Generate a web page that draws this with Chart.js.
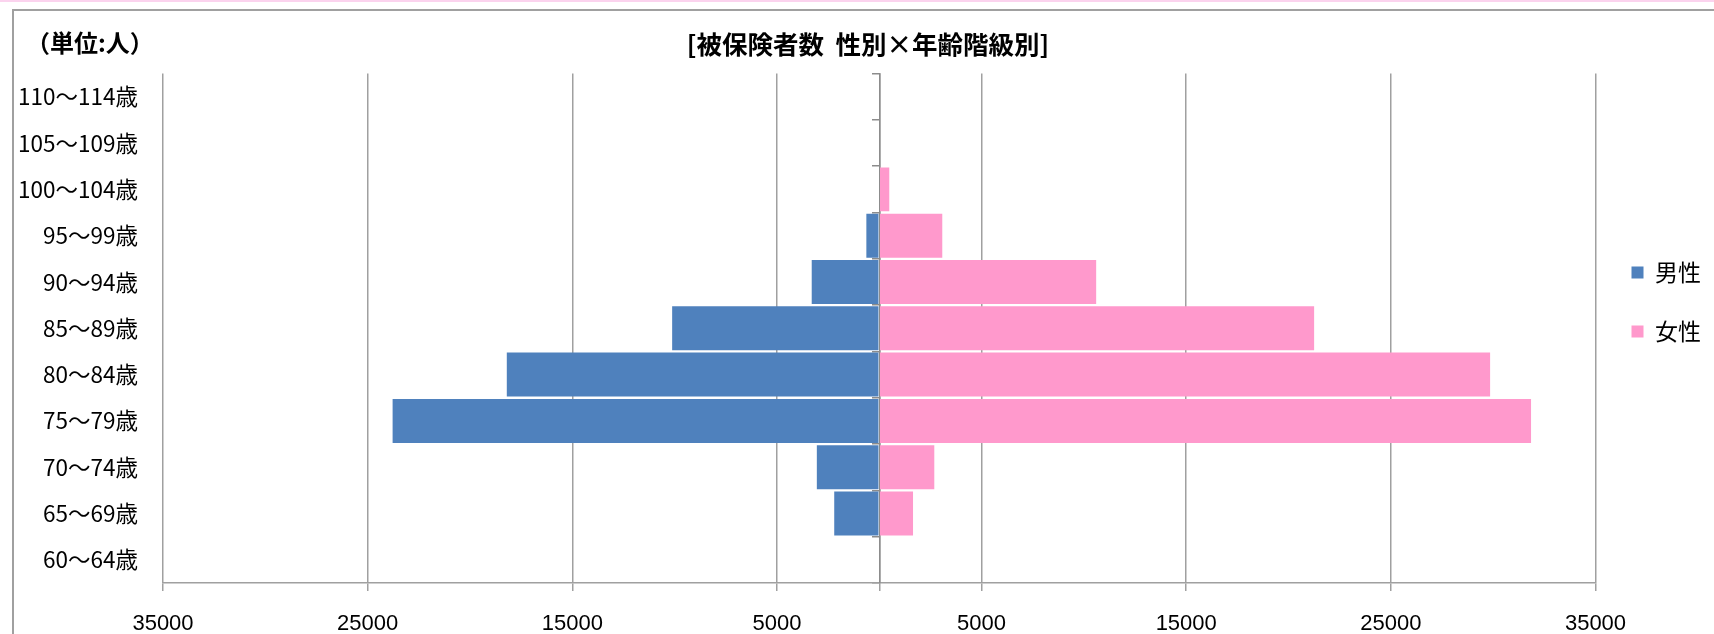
<!DOCTYPE html>
<html>
<head>
<meta charset="utf-8">
<script src="https://cdn.jsdelivr.net/npm/chart.js@4/dist/chart.umd.min.js"></script>
<style>
  html, body { margin: 0; padding: 0; background: #fff; }
  #wrap { position: relative; width: 1714px; height: 634px; overflow: hidden; }
  #pink { position: absolute; left: 0; top: 0; width: 1714px; height: 2px; background: #fbd3ee; }
  #frame { position: absolute; left: 12px; top: 9px; width: 1720px; height: 700px;
           border-top: 2px solid #a0a0a0; border-left: 2px solid #a0a0a0; }
  #c { position: absolute; left: 0; top: 0; }
</style>
</head>
<body>
<div id="wrap">
  <div id="pink"></div>
  <div id="frame"></div>
  <canvas id="c" width="1714" height="634"></canvas>
</div>
<script>
const ageLabels = ['110〜114歳', '105〜109歳', '100〜104歳', '95〜99歳', '90〜94歳', '85〜89歳',
                   '80〜84歳', '75〜79歳', '70〜74歳', '65〜69歳', '60〜64歳'];
const maleCounts = [0, 0, 0, 630, 3300, 10120, 18200, 23780, 3050, 2200, 0];
const femaleCounts = [0, 0, 490, 3080, 10600, 21250, 29850, 31850, 2690, 1650, 0];
const xTickValues = [-35000, -25000, -15000, -5000, 0, 5000, 15000, 25000, 35000];

const jpFont = '"Noto Sans CJK JP", "Noto Sans", sans-serif';
const gridGray = '#a0a0a0';

// unit label in the top-left corner
const unitLabel = {
    id: 'unitLabel',
    afterDraw(chart) {
        const ctx = chart.ctx;
        ctx.save();
        ctx.font = 'bold 24px ' + jpFont;
        ctx.fillStyle = '#000';
        ctx.textBaseline = 'middle';
        ctx.textAlign = 'left';
        ctx.fillText('（単位:人）', 26, 43);
        ctx.restore();
    }
};

// Excel centres title and legend on the whole frame, nudge them a bit
const boxShift = {
    id: 'boxShift',
    afterLayout(chart) {
        if (chart.legend) chart.legend.bottom -= 50;
        if (chart.titleBlock) {
            chart.titleBlock.left += 6;
            chart.titleBlock.right += 6;
        }
    }
};

new Chart(document.getElementById('c'), {
    type: 'bar',
    data: {
        labels: ageLabels,
        datasets: [{
            label: '男性',
            data: maleCounts.map(v => -v),
            backgroundColor: '#4f81bd',
            barPercentage: 0.95,
            categoryPercentage: 1
        }, {
            label: '女性',
            data: femaleCounts,
            backgroundColor: '#ff99cc',
            barPercentage: 0.95,
            categoryPercentage: 1
        }]
    },
    options: {
        indexAxis: 'y',
        responsive: false,
        animation: false,
        layout: { padding: { left: 13, right: 3, top: 20, bottom: 0 } },
        plugins: {
            title: {
                display: true,
                text: '[被保険者数  性別×年齢階級別]',
                color: '#000',
                font: { family: jpFont, size: 25.5, weight: 'bold' },
                padding: { top: 9, bottom: 14 }
            },
            legend: {
                position: 'right',
                labels: {
                    boxWidth: 12,
                    boxHeight: 12,
                    padding: 36,
                    color: '#000',
                    font: { family: jpFont, size: 23 }
                }
            },
            tooltip: { enabled: false }
        },
        scales: {
            x: {
                stacked: true,
                min: -35000,
                max: 35000,
                afterBuildTicks: (scale) => { scale.ticks = xTickValues.map(v => ({ value: v })); },
                afterFit: (scale) => { scale.height = 51; },
                ticks: {
                    color: '#000',
                    padding: 20,
                    maxRotation: 0,
                    font: { family: '"Liberation Sans", Arial, sans-serif', size: 22 },
                    callback: (v) => v === 0 ? '' : String(Math.abs(v))
                },
                grid: { color: gridGray, lineWidth: 1.5, tickLength: 8 },
                border: { display: true, color: gridGray, width: 1.5 }
            },
            y: {
                stacked: true,
                afterFit: (scale) => { scale.width = 150; },
                ticks: {
                    color: '#000',
                    padding: 25,
                    font: { family: jpFont, size: 22.5 }
                },
                grid: { display: false, drawTicks: false },
                border: { display: false }
            },
            y2: {
                type: 'category',
                labels: ageLabels,
                position: { x: 0 },
                offset: true,
                ticks: { display: false },
                grid: { offset: true, drawOnChartArea: false, tickLength: 7, color: '#8c8c8c', lineWidth: 1.5 },
                border: { display: true, color: '#8c8c8c', width: 1.5 }
            }
        }
    },
    plugins: [unitLabel, boxShift]
});
</script>
</body>
</html>
